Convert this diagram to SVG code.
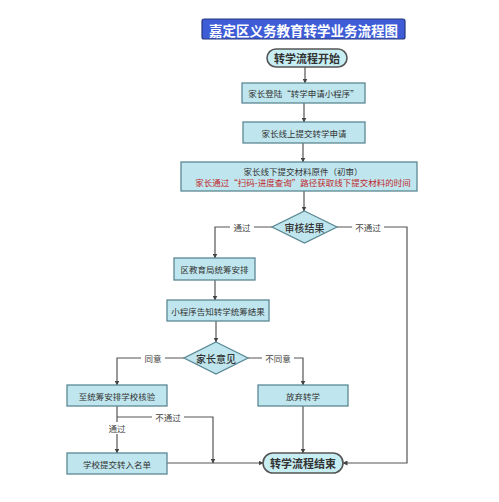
<svg xmlns="http://www.w3.org/2000/svg" width="499" height="502" viewBox="0 0 499 502">
<defs>
<marker id="ah" viewBox="0 0 10 10" refX="9" refY="5" markerWidth="5" markerHeight="5" orient="auto" markerUnits="userSpaceOnUse">
<path d="M0,0 L10,5 L0,10 Z" fill="#444"/>
</marker>
<style>
text{font-family:"Noto Sans CJK SC","Noto Sans",sans-serif;text-anchor:middle;dominant-baseline:central}
.box{fill:#bfe6ee;stroke:#5b8893;stroke-width:1.3}
.pill{fill:#c7eef3;stroke:#555;stroke-width:1.6}
.t{font-size:8.5px;fill:#333}
.red{font-size:8.5px;fill:#c0282d}
.big{font-size:11px;font-weight:bold;fill:#333}
.dia{font-size:10px;font-weight:500;fill:#333}
.lbl{font-size:8.5px;fill:#444}
.ln{fill:none;stroke:#555;stroke-width:1.2}
.bg{fill:#fff}
</style>
</defs>
<rect width="499" height="502" fill="#fff"/>
<g id="title">
<rect x="202" y="19" width="203" height="20" rx="2" fill="#3d5cd6" stroke="#27367f" stroke-width="1.2"/>
<text x="303.5" y="29.5" font-size="13.5" font-weight="bold" fill="#fff">嘉定区义务教育转学业务流程图</text>
</g>
<g id="connectors">
<line class="ln" x1="305" y1="67" x2="305" y2="83" marker-end="url(#ah)"/>
<line class="ln" x1="304" y1="103" x2="304" y2="122" marker-end="url(#ah)"/>
<line class="ln" x1="303" y1="143" x2="303" y2="162" marker-end="url(#ah)"/>
<line class="ln" x1="304" y1="191" x2="304" y2="211" marker-end="url(#ah)"/>
<polyline class="ln" points="272,227 215,227 215,258" marker-end="url(#ah)"/>
<polyline class="ln" points="337,227 407,227 407,463 343,463" marker-end="url(#ah)"/>
<line class="ln" x1="215" y1="280" x2="215" y2="300" marker-end="url(#ah)"/>
<line class="ln" x1="216" y1="321" x2="216" y2="342" marker-end="url(#ah)"/>
<polyline class="ln" points="184,358 117,358 117,385" marker-end="url(#ah)"/>
<polyline class="ln" points="248,358 303,358 303,385" marker-end="url(#ah)"/>
<line class="ln" x1="303" y1="406" x2="303" y2="453" marker-end="url(#ah)"/>
<line class="ln" x1="117" y1="406" x2="117" y2="453" marker-end="url(#ah)"/>
<polyline class="ln" points="117,417 213,417 213,463" marker-end="url(#ah)"/>
<line class="ln" x1="167" y1="463" x2="263" y2="463" marker-end="url(#ah)"/>
<rect class="bg" x="230" y="221" width="24" height="12"/>
<text class="lbl" x="242" y="227">通过</text>
<rect class="bg" x="352" y="221" width="32" height="12"/>
<text class="lbl" x="368" y="227">不通过</text>
<rect class="bg" x="141" y="352" width="24" height="12"/>
<text class="lbl" x="153" y="358">同意</text>
<rect class="bg" x="262" y="352" width="32" height="12"/>
<text class="lbl" x="278" y="358">不同意</text>
<rect class="bg" x="152" y="411" width="32" height="12"/>
<text class="lbl" x="168" y="417">不通过</text>
<rect class="bg" x="105" y="422" width="24" height="12"/>
<text class="lbl" x="117" y="428">通过</text>
</g>
<g id="start">
<rect class="pill" x="267" y="49" width="80" height="18" rx="9"/>
<text class="big" x="307" y="58">转学流程开始</text>
</g>
<g id="login">
<rect class="box" x="242" y="83" width="123" height="20"/>
<text class="t" x="303.5" y="93">家长登陆“转学申请小程序”</text>
</g>
<g id="online">
<rect class="box" x="243" y="122" width="122" height="21"/>
<text class="t" x="304" y="132.5">家长线上提交转学申请</text>
</g>
<g id="offline">
<rect class="box" x="181" y="162" width="236" height="29"/>
<text class="t" x="303" y="171">家长线下提交材料原件（初审）</text>
<text class="red" x="303" y="182">家长通过“扫码-进度查询”路径获取线下提交材料的时间</text>
</g>
<g id="review">
<polygon class="box" points="304.5,211 337,227 304.5,243 272,227"/>
<text class="dia" x="304.5" y="227">审核结果</text>
</g>
<g id="district">
<rect class="box" x="174" y="258" width="81" height="22"/>
<text class="t" x="214.5" y="269">区教育局统筹安排</text>
</g>
<g id="notify">
<rect class="box" x="167" y="300" width="102" height="21"/>
<text class="t" x="218" y="310.5">小程序告知转学统筹结果</text>
</g>
<g id="opinion">
<polygon class="box" points="216,342 248,358 216,374 184,358"/>
<text class="dia" x="216" y="358">家长意见</text>
</g>
<g id="verify">
<rect class="box" x="67" y="385" width="100" height="21"/>
<text class="t" x="117" y="395.5">至统筹安排学校核验</text>
</g>
<g id="giveup">
<rect class="box" x="258" y="385" width="90" height="21"/>
<text class="t" x="303" y="395.5">放弃转学</text>
</g>
<g id="submit">
<rect class="box" x="67" y="453" width="100" height="21"/>
<text class="t" x="117" y="463.5">学校提交转入名单</text>
</g>
<g id="end">
<rect class="pill" x="263" y="453" width="80" height="20" rx="10"/>
<text class="big" x="303" y="463">转学流程结束</text>
</g>
</svg>
